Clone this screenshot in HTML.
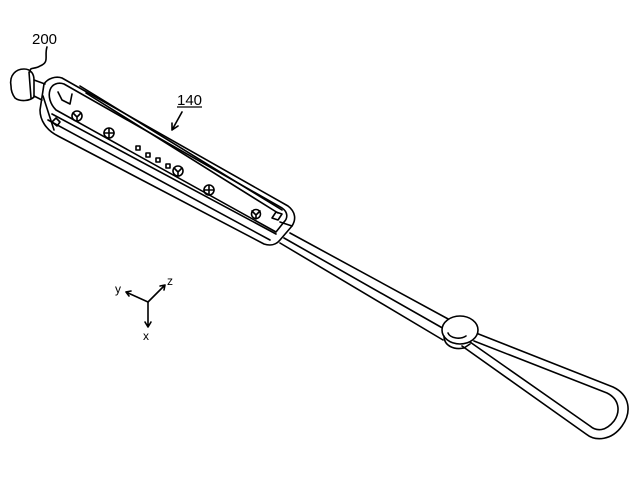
<!DOCTYPE html>
<html><head><meta charset="utf-8"><style>
html,body{margin:0;padding:0;background:#fff;}
svg{display:block}
text{font-family:"Liberation Sans",sans-serif;fill:#000}
</style></head><body>
<svg width="640" height="494" viewBox="0 0 640 494" xmlns="http://www.w3.org/2000/svg">
<g fill="none" stroke="#000" stroke-width="1.6" stroke-linejoin="round" stroke-linecap="round">
<path d="M11,86 C9,75 16,69 24,69 C31,69 34,74 34,80 L34,97 C30,101 20,102 15,98 C12,94 11,90 11,86 Z"/>
<path d="M29,72 L31,98"/>
<path d="M34,80 L45,84 M34,96 L42,100"/>
<path d="M44,84 C48,78 56,76 62,78 L288,206 C296,212 296,220 292,226 L280,240 C276,245 270,246 264,244 L58,136 C46,130 40,120 40,110 Z"/>
<path d="M43,96 L54,130"/>
<path d="M52,114 L276,234 M48,120 L270,240"/>
<path d="M50,90 C52,84 58,82 64,84 L282,208 C288,212 288,218 284,222 L276,232 L56,110 C50,104 48,96 50,90 Z"/>
<path d="M80,86 L282,210"/>
<path d="M86,93 L278,213"/>
<path d="M58,92 L62,100 L70,104 L72,94"/>
<path d="M276,212 L282,214 L278,220 L272,218 Z"/>
<path d="M280,222 L292,226"/>
<circle cx="77" cy="116" r="5"/><path d="M73,113 L77,117 L81,113 M77,117 L77,121"/>
<circle cx="109" cy="133" r="5"/><path d="M104,133 L114,133 M109,128 L109,138"/>
<circle cx="178" cy="171" r="5"/><path d="M174,168 L178,172 L182,168 M178,172 L178,176"/>
<circle cx="209" cy="190" r="5"/><path d="M204,190 L214,190 M209,185 L209,195"/>
<circle cx="256" cy="214" r="4.5"/><path d="M252,211 L256,215 L260,211 M256,215 L256,219"/>
<rect x="136" y="146" width="4" height="4"/><rect x="146" y="153" width="4" height="4"/><rect x="156" y="158" width="4" height="4"/><rect x="166" y="164" width="4" height="4"/>
<path d="M52,122 L56,118 L60,122 L57,126 Z"/>
<path d="M290,233 L450,320"/>
<path d="M280,243 L443,340"/>
<path d="M284,238 L446,330"/>
<path d="M476,333 L613,387 C630,395 632,412 622,426 C612,440 596,442 586,434 L462,346"/>
<path d="M474,341 L607,393 C619,399 621,411 614,421 C606,431 597,432 590,426 L470,342"/>
<ellipse cx="460" cy="330" rx="18" ry="14" fill="#fff"/>
<path d="M444,336 C444,346 454,350 464,348 L470,344"/>
<path d="M448,333 C450,338 460,340 466,336"/>
<path d="M47,47 C44,56 50,62 40,66 C34,70 30,66 30,72"/>
<path d="M182,112 L172,130 M172,130 L172,123 M172,130 L178,126"/>
<path d="M148,302 L126,292 M126,292 L131,291 M126,292 L129,296"/>
<path d="M148,302 L165,285 M165,285 L160,286 M165,285 L164,290"/>
<path d="M148,302 L148,327 M148,327 L145,322 M148,327 L151,322"/>
</g>
<line x1="177" y1="107" x2="202" y2="107" stroke="#000" stroke-width="1.2"/>
<text x="32" y="44" font-size="15">200</text>
<text x="177" y="105" font-size="15">140</text>
<text x="115" y="293" font-size="12">y</text>
<text x="167" y="285" font-size="12">z</text>
<text x="143" y="340" font-size="12">x</text>
</svg>
</body></html>
